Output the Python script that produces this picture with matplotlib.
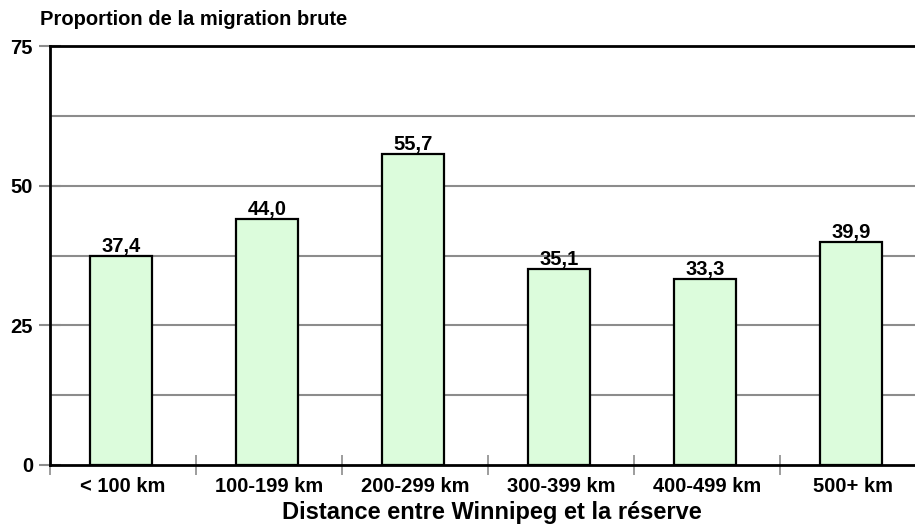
import matplotlib
matplotlib.use("Agg")
import matplotlib.pyplot as plt
import numpy as np

categories = ["< 100 km", "100-199 km", "200-299 km", "300-399 km", "400-499 km", "500+ km"]
values = [37.4, 44.0, 55.7, 35.1, 33.3, 39.9]
value_labels = ["37,4", "44,0", "55,7", "35,1", "33,3", "39,9"]
yticks = [0, 25, 50, 75]
ygrid = [12.5, 25, 37.5, 50, 62.5]
ylabel = "Proportion de la migration brute"
xlabel = "Distance entre Winnipeg et la réserve"

plt.rcParams['font.family'] = ['Liberation Sans', 'DejaVu Sans']
plt.rcParams['font.weight'] = 'bold'

W, H = 915, 527
fig = plt.figure(figsize=(W/100, H/100), dpi=100)
ax = fig.add_axes([50/W, (H-465)/H, 876/W, 419/H])

x = np.arange(len(categories))
for g in ygrid:
    ax.axhline(g, color='#8c8c8c', lw=1.5, zorder=1)
ax.bar(x - 0.015, values, width=0.425, color='#dcfcdc', edgecolor='black', linewidth=1.6, zorder=3)
for xi, v, lab in zip(x, values, value_labels):
    ax.text(xi - 0.015, v + 0.75, lab, ha='center', va='baseline', fontsize=14.5, fontweight='bold')

ax.set_xlim(-0.5, len(categories) - 0.5)
ax.set_ylim(0, 75)
ax.set_yticks(yticks)
ax.set_yticklabels([str(t) for t in yticks], fontsize=14.5, fontweight='bold')
ax.tick_params(axis='y', direction='inout', length=16, width=1.5, color='#8c8c8c', pad=4.3)

ax.set_xticks(np.arange(len(categories) + 1) - 0.5)
ax.set_xticklabels([])
ax.set_xticks(x, minor=True)
ax.set_xticklabels(categories, minor=True, fontsize=14.5, fontweight='bold')
ax.tick_params(axis='x', which='major', direction='inout', length=14, width=1.2, color='#8c8c8c')
ax.tick_params(axis='x', which='minor', length=0, pad=9)

for s in ['left', 'bottom', 'top']:
    ax.spines[s].set_color('black')
    ax.spines[s].set_linewidth(2)
ax.spines['right'].set_visible(False)
ax.spines['left'].set_zorder(4)

fig.text(40/W, 1 - 25/H, ylabel, ha='left', va='baseline', fontsize=14.5, fontweight='bold')
fig.text(492/W, 1 - 519/H, xlabel, ha='center', va='baseline', fontsize=17, fontweight='bold')

fig.savefig("out.png", dpi=100)
